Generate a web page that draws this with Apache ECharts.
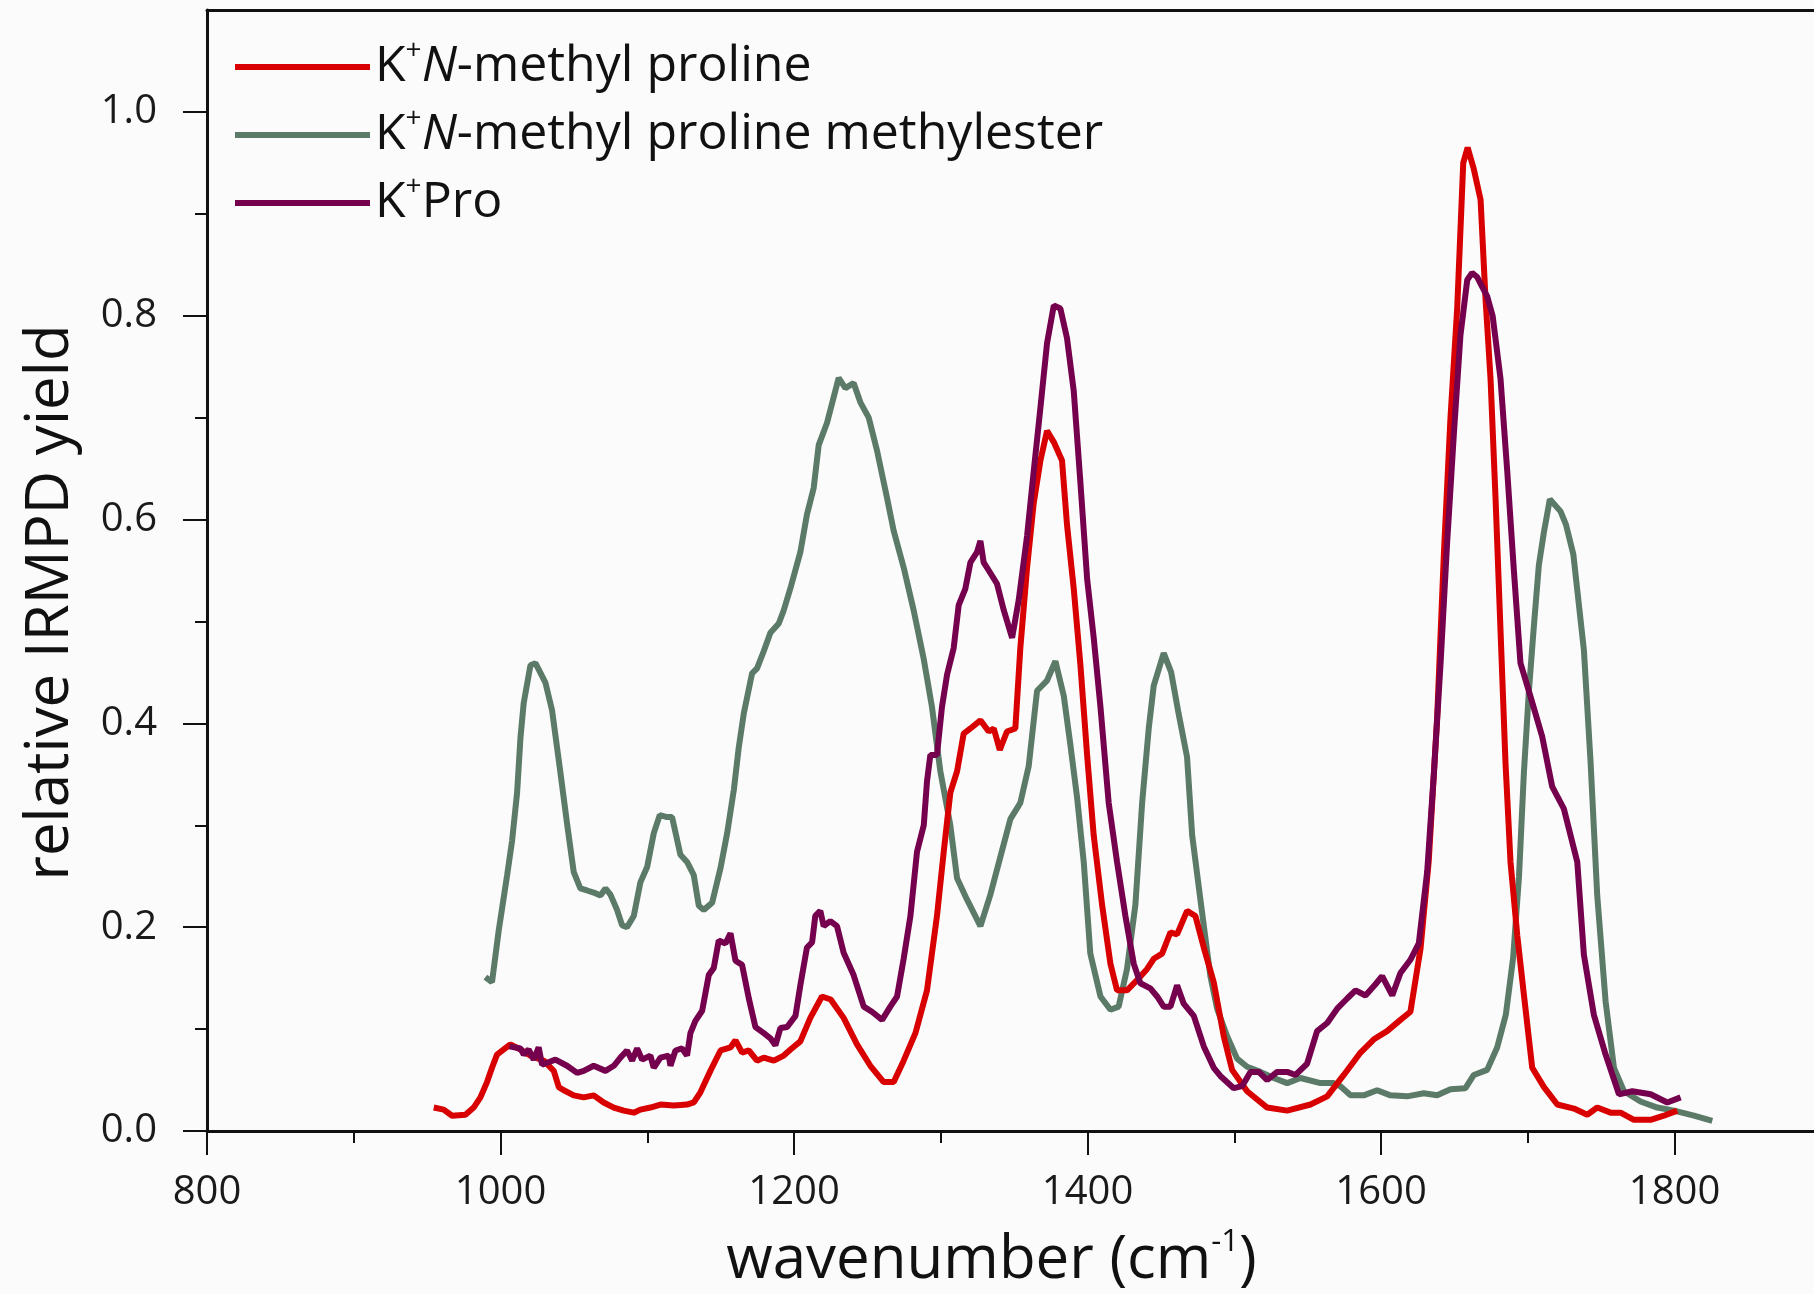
<!DOCTYPE html>
<html>
<head>
<meta charset="utf-8">
<script src="https://cdn.jsdelivr.net/npm/echarts@6/dist/echarts.min.js"></script>
<style>
html,body{margin:0;padding:0;background:#fbfbfb;}
#chart{width:1814px;height:1294px;}
</style>
</head>
<body>
<div id="chart"></div>
<script>
// ---- data (wavenumber in cm^-1, relative IRMPD yield) ----
const seriesNames = ['K+N-methyl proline', 'K+N-methyl proline methylester', 'K+Pro'];

const redX = [954.5,961.3,967,976.1,981.7,986.3,990.8,994.2,997.6,1002.2,1006.7,1013.6,1020.4,1029.5,1036.3,1039.7,1043.1,1049.9,1056.7,1063.5,1070.3,1077.2,1084,1090.8,1095.3,1102.1,1109,1118,1127.1,1131.7,1136.2,1143,1149.9,1156.7,1160.1,1164.6,1169.2,1174.8,1179.4,1186.2,1193,1197.6,1204.3,1211.1,1219,1225,1233.8,1242.9,1252,1261.1,1267.9,1274.7,1282.7,1290.6,1297.4,1302,1306.5,1311.1,1315.6,1320.2,1327,1332.7,1336.1,1340.2,1345.1,1350.8,1354.2,1358.8,1363.3,1367.9,1372.4,1377,1382.6,1386,1390.6,1395.1,1399.7,1404.2,1409.9,1415.6,1420.1,1426.9,1433.7,1440.6,1445.1,1450.8,1456.5,1461,1467.8,1473.5,1479.2,1486,1492.8,1498.5,1508.7,1522.4,1536,1551.9,1563.3,1574.6,1586,1595.1,1604.1,1613.2,1620,1626.9,1632.5,1638.2,1642.8,1647.3,1651.9,1656,1659,1663,1667.8,1671.2,1674.6,1678,1681.4,1684.8,1688.2,1692.8,1697.3,1703,1711,1720.1,1731.4,1740.5,1747.3,1756.4,1763.2,1772.3,1783.7,1792.7,1801.8];
const redY = [0.023,0.021,0.015,0.016,0.023,0.033,0.048,0.062,0.075,0.080,0.085,0.080,0.074,0.069,0.059,0.043,0.040,0.035,0.033,0.035,0.028,0.023,0.020,0.018,0.021,0.023,0.026,0.025,0.026,0.028,0.038,0.059,0.079,0.082,0.089,0.077,0.079,0.069,0.072,0.069,0.074,0.080,0.088,0.111,0.132,0.129,0.111,0.085,0.064,0.048,0.048,0.069,0.096,0.138,0.211,0.274,0.332,0.353,0.390,0.395,0.403,0.392,0.395,0.374,0.392,0.395,0.474,0.553,0.616,0.658,0.687,0.676,0.658,0.595,0.532,0.458,0.369,0.290,0.222,0.164,0.138,0.138,0.148,0.159,0.169,0.174,0.195,0.193,0.216,0.211,0.180,0.146,0.093,0.060,0.039,0.023,0.020,0.026,0.034,0.055,0.077,0.090,0.098,0.109,0.117,0.179,0.265,0.405,0.566,0.700,0.808,0.950,0.965,0.945,0.914,0.816,0.738,0.621,0.491,0.361,0.264,0.192,0.134,0.062,0.043,0.026,0.022,0.016,0.023,0.018,0.018,0.011,0.011,0.015,0.020];

const greenX = [989.7,994.2,998.8,1004.5,1007.9,1011.3,1013.6,1015.8,1020.4,1023.8,1030.6,1035.1,1040.8,1045.3,1049.9,1054.4,1059,1063.5,1068.1,1071.5,1074.9,1079.4,1082.8,1086.2,1090.8,1095.3,1099.9,1104.4,1108.5,1113.5,1116.9,1122.6,1127.1,1131.7,1135.1,1138.5,1144.2,1149.9,1154.4,1159,1162.3,1165.8,1171.4,1174.8,1179.4,1183.9,1189.6,1193,1198,1204.3,1208.8,1213.4,1216.8,1222.5,1230.4,1235,1240.6,1245.2,1250.9,1256.5,1263.4,1267.9,1274.7,1281.5,1288.4,1294,1299.7,1306.5,1311.1,1317.9,1327,1333.8,1340.6,1347.4,1354.2,1359.9,1365.6,1372.4,1378.1,1383.8,1388.3,1392.9,1397.4,1401.9,1408.8,1415.6,1421.2,1426.9,1432.6,1437.2,1441.7,1445.1,1451.9,1457,1462,1467.8,1471.3,1476.9,1483.7,1488.3,1495.1,1501.9,1508.7,1517.8,1526.9,1536,1545.1,1558.7,1567.8,1572.3,1579.2,1588.2,1597.3,1606.4,1617.8,1629.1,1638.2,1647.3,1657.5,1663.2,1672.3,1679.1,1685,1690,1694,1697.3,1700.7,1704.1,1707.5,1710.9,1715,1722.3,1726,1731,1738.2,1742.8,1747.3,1753,1758.7,1765.5,1776.8,1788.2,1799.6,1813.2,1825.7];
const greenY = [0.151,0.146,0.197,0.251,0.285,0.332,0.386,0.420,0.457,0.459,0.440,0.413,0.352,0.302,0.254,0.238,0.236,0.234,0.231,0.238,0.232,0.217,0.202,0.200,0.211,0.244,0.259,0.292,0.310,0.308,0.308,0.271,0.264,0.251,0.221,0.217,0.224,0.258,0.292,0.335,0.376,0.410,0.449,0.454,0.471,0.489,0.498,0.511,0.535,0.568,0.605,0.631,0.673,0.695,0.739,0.729,0.734,0.715,0.700,0.668,0.621,0.589,0.553,0.511,0.463,0.416,0.353,0.300,0.248,0.227,0.201,0.232,0.269,0.306,0.322,0.358,0.432,0.442,0.461,0.427,0.379,0.327,0.264,0.174,0.132,0.119,0.122,0.159,0.222,0.322,0.395,0.437,0.469,0.450,0.410,0.367,0.290,0.227,0.152,0.120,0.093,0.071,0.063,0.058,0.052,0.047,0.052,0.047,0.047,0.044,0.035,0.035,0.040,0.035,0.034,0.037,0.035,0.041,0.042,0.055,0.060,0.082,0.114,0.170,0.250,0.351,0.431,0.495,0.555,0.587,0.620,0.608,0.595,0.566,0.472,0.361,0.231,0.127,0.062,0.039,0.029,0.023,0.020,0.015,0.010];

const purpleX = [1006,1013.6,1015.8,1019.2,1022.6,1026,1028.3,1031.7,1037.4,1045.3,1052.2,1056.7,1063.5,1071.5,1077.2,1081.7,1086.2,1089.7,1093.1,1096.5,1102.1,1104.4,1109,1114.6,1115.8,1119.2,1123.7,1127.1,1129.4,1132.8,1137.4,1141.9,1145.3,1148.7,1153.3,1156.7,1160.1,1164.6,1169.2,1173.7,1179.4,1183.9,1187.3,1190.7,1195.3,1201,1204.3,1208.8,1212.3,1214.5,1217.9,1220.2,1224.7,1229.3,1233.8,1240.6,1247.5,1253.1,1260,1265.6,1270.2,1274.7,1279.3,1283.8,1288.4,1290.6,1292.9,1297.4,1300.8,1304.3,1308.8,1312.2,1316.7,1320.2,1324.7,1327,1329.2,1332.7,1338.3,1342.9,1348.6,1353.1,1358.8,1363.3,1367.9,1372.4,1377,1381.5,1386,1390.6,1395.1,1399.7,1404.2,1408.8,1414.4,1420.1,1425.8,1431.5,1436,1442.8,1447.4,1451.9,1456.5,1461,1465.5,1472.4,1479.2,1486,1490.5,1499.6,1505.3,1511,1516.7,1522.4,1529.2,1536,1541.7,1549.6,1556.4,1563.3,1570.1,1576.9,1582.6,1589.4,1596.2,1600.7,1607.6,1613.2,1620,1625.7,1631.4,1636,1640.5,1645,1649.6,1654.1,1658.7,1662,1665.5,1672.3,1676,1681.4,1686,1690.5,1695,1701.9,1709.8,1716.6,1724.6,1733.7,1738.2,1745,1753,1762.1,1771.2,1783.7,1795,1804.1];
const purpleY = [0.083,0.081,0.075,0.080,0.070,0.082,0.065,0.067,0.070,0.064,0.057,0.059,0.064,0.059,0.064,0.072,0.079,0.069,0.081,0.070,0.074,0.062,0.072,0.074,0.064,0.079,0.081,0.074,0.096,0.108,0.118,0.153,0.160,0.187,0.184,0.194,0.167,0.163,0.130,0.102,0.096,0.091,0.084,0.101,0.102,0.113,0.143,0.180,0.185,0.211,0.216,0.201,0.206,0.201,0.175,0.153,0.122,0.117,0.109,0.122,0.132,0.169,0.211,0.274,0.300,0.343,0.369,0.369,0.416,0.448,0.474,0.516,0.532,0.558,0.568,0.579,0.558,0.550,0.537,0.511,0.484,0.521,0.584,0.647,0.710,0.773,0.810,0.807,0.778,0.726,0.637,0.542,0.484,0.416,0.322,0.264,0.211,0.164,0.145,0.140,0.132,0.122,0.122,0.143,0.125,0.113,0.083,0.062,0.054,0.042,0.044,0.058,0.058,0.050,0.058,0.058,0.055,0.066,0.098,0.106,0.120,0.130,0.138,0.133,0.144,0.152,0.133,0.155,0.168,0.184,0.254,0.351,0.458,0.577,0.684,0.781,0.835,0.842,0.838,0.819,0.800,0.738,0.647,0.550,0.459,0.426,0.387,0.338,0.316,0.264,0.173,0.114,0.075,0.036,0.039,0.036,0.028,0.033];

// ---- axis ticks / labels ----
const xMajorTicks = [800, 1000, 1200, 1400, 1600, 1800];
const xMinorTicks = [900, 1100, 1300, 1500, 1700];
const yMajorTicks = [0, 0.2, 0.4, 0.6, 0.8, 1.0];
const yMinorTicks = [0.1, 0.3, 0.5, 0.7, 0.9];
const X_MIN = 800, X_MAX = 1895, Y_MIN = 0, Y_MAX = 1.1;

const colors = ['#d80000', '#5b7a67', '#74004e'];
const FONT = 'Open Sans';

const zip = (xs, ys) => xs.map((x, i) => [x, ys[i]]);

const legendRich = {
  a: {fontSize: 50, fontFamily: FONT, color: '#111', lineHeight: 60},
  i: {fontSize: 50, fontFamily: FONT, color: '#111', lineHeight: 60, fontStyle: 'italic'},
  s: {fontSize: 28, fontFamily: FONT, color: '#111', lineHeight: 30, verticalAlign: 'top'}
};
const legendLabel = {
  'K+N-methyl proline': '{a|K}{s|+}{i|N}{a|-methyl proline}',
  'K+N-methyl proline methylester': '{a|K}{s|+}{i|N}{a|-methyl proline methylester}',
  'K+Pro': '{a|K}{s|+}{a|Pro}'
};

const axisLineStyle = {color: '#111', width: 3};
const tickStyle = {color: '#111', width: 2};
const labelStyle = {fontSize: 40, fontFamily: FONT, color: '#1a1a1a'};

const chart = echarts.init(document.getElementById('chart'), null, {renderer: 'canvas'});
chart.setOption({
  backgroundColor: '#fbfbfb',
  animation: false,
  grid: {left: 207, top: 10, right: 0, height: 1121, show: false, outerBoundsMode: 'none', containLabel: false},
  legend: {
    orient: 'vertical', left: 230, top: 32,
    itemWidth: 135, itemHeight: 6, itemGap: 13, itemTextGap: 6,
    icon: 'rect',
    data: seriesNames,
    formatter: name => legendLabel[name],
    textStyle: {rich: legendRich}
  },
  xAxis: [{
    type: 'value', min: X_MIN, max: X_MAX, position: 'bottom',
    axisLine: {show: true, lineStyle: axisLineStyle},
    axisTick: {show: true, customValues: xMajorTicks, length: 24, lineStyle: tickStyle},
    axisLabel: {show: true, customValues: xMajorTicks, margin: 42, formatter: v => String(v), ...labelStyle},
    splitLine: {show: false},
    name: '{a|wavenumber (cm}{s|-1}{a|)}',
    nameLocation: 'middle', nameGap: 96,
    nameTextStyle: {
      padding: [0, 38, 0, 0],
      rich: {
        a: {fontSize: 60, fontFamily: FONT, color: '#111', lineHeight: 68},
        s: {fontSize: 31, fontFamily: FONT, color: '#111', lineHeight: 35, verticalAlign: 'top'}
      }
    }
  }, {
    type: 'value', min: X_MIN, max: X_MAX, position: 'bottom',
    axisLine: {show: false},
    axisTick: {show: true, customValues: xMinorTicks, length: 12, lineStyle: tickStyle},
    axisLabel: {show: false},
    splitLine: {show: false}
  }, {
    type: 'value', min: X_MIN, max: X_MAX, position: 'top',
    axisLine: {show: true, lineStyle: axisLineStyle},
    axisTick: {show: false},
    axisLabel: {show: false},
    splitLine: {show: false}
  }],
  yAxis: [{
    type: 'value', min: Y_MIN, max: Y_MAX, position: 'left',
    axisLine: {show: true, lineStyle: axisLineStyle},
    axisTick: {show: true, customValues: yMajorTicks, length: 24, lineStyle: tickStyle},
    axisLabel: {show: true, customValues: yMajorTicks, margin: 50, formatter: v => v.toFixed(1), ...labelStyle},
    splitLine: {show: false},
    name: 'relative IRMPD yield',
    nameLocation: 'middle', nameGap: 126,
    nameTextStyle: {fontSize: 60, fontFamily: FONT, color: '#111', padding: [0, 64, 0, 0]}
  }, {
    type: 'value', min: Y_MIN, max: Y_MAX, position: 'left',
    axisLine: {show: false},
    axisTick: {show: true, customValues: yMinorTicks, length: 12, lineStyle: tickStyle},
    axisLabel: {show: false},
    splitLine: {show: false}
  }],
  series: [
    {name: seriesNames[0], type: 'line', data: zip(redX, redY), showSymbol: false, color: colors[0], lineStyle: {width: 6, color: colors[0]}, z: 3},
    {name: seriesNames[1], type: 'line', data: zip(greenX, greenY), showSymbol: false, color: colors[1], lineStyle: {width: 6, color: colors[1]}, z: 2},
    {name: seriesNames[2], type: 'line', data: zip(purpleX, purpleY), showSymbol: false, color: colors[2], lineStyle: {width: 6, color: colors[2]}, z: 4}
  ]
});
</script>
</body>
</html>
